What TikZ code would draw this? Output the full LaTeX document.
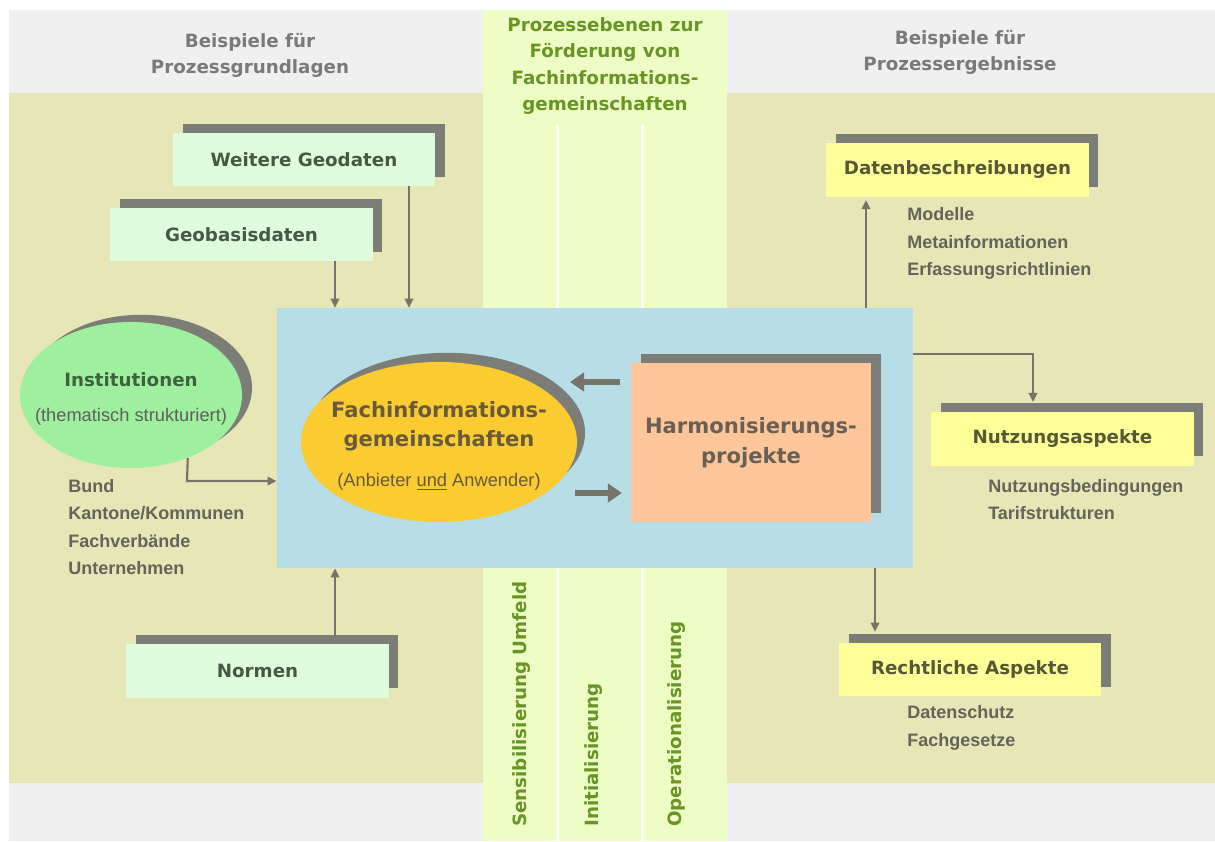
\documentclass[tikz,border=0pt]{standalone}
\usepackage{fontspec}
\setmainfont{DejaVu Sans}
\newfontfamily\arialfont{Liberation Sans}
\usepackage{tikz}
\usetikzlibrary{shapes.geometric}
\usetikzlibrary{shadows}
\usetikzlibrary{arrows.meta}

\definecolor{rahmengrau}{RGB}{240,240,240}
\definecolor{khaki}{RGB}{230,230,182}
\definecolor{spalte}{RGB}{238,252,198}
\definecolor{kernblau}{RGB}{183,222,230}
\definecolor{hellgruen}{RGB}{224,252,222}
\definecolor{instgruen}{RGB}{158,240,158}
\definecolor{fachgelb}{RGB}{250,204,50}
\definecolor{lachs}{RGB}{252,198,154}
\definecolor{hellgelb}{RGB}{255,255,153}
\definecolor{schatten}{RGB}{125,125,120}
\definecolor{titelgrau}{RGB}{122,122,122}
\definecolor{ebenengruen}{RGB}{104,150,36}
\definecolor{gruentext}{RGB}{70,88,70}
\definecolor{gelbtext}{RGB}{88,88,52}
\definecolor{instext}{RGB}{62,98,62}
\definecolor{fachtext}{RGB}{105,90,60}
\definecolor{harmtext}{RGB}{105,95,85}
\definecolor{listengrau}{RGB}{100,100,90}
\definecolor{klammergrau}{RGB}{95,95,95}
\definecolor{pfeilgrau}{RGB}{118,116,104}

\tikzset{
   schattig/.style={
      drop shadow={shadow xshift=0.24cm, shadow yshift=0.23cm,
                   fill=schatten, opacity=1}
   },
   kasten/.style={
      rectangle, inner sep=0pt,
      minimum width=6.55cm, minimum height=1.33cm,
      font=\bfseries\fontsize{13}{16}\selectfont,
      schattig
   },
   gruenkasten/.style={kasten, fill=hellgruen, text=gruentext},
   gelbkasten/.style={kasten, fill=hellgelb, text=gelbtext},
   titel/.style={
      align=center, inner sep=0pt, text=titelgrau,
      font=\bfseries\fontsize{13}{18.5}\selectfont
   },
   ebene/.style={
      align=center, inner sep=0pt, text=ebenengruen,
      font=\bfseries\fontsize{13}{18.7}\selectfont
   },
   ebenevert/.style={
      rotate=90, anchor=west, inner sep=0pt, text=ebenengruen,
      font=\bfseries\fontsize{13}{16}\selectfont
   },
   liste/.style={
      anchor=west, align=left, inner sep=0pt, text=listengrau,
      font=\arialfont\bfseries\fontsize{12.8}{19.6}\selectfont
   },
   pfeil/.style={
      draw=pfeilgrau, line width=1.5pt,
      -{Triangle[length=6.5pt, width=6pt]}
   },
   dick/.style={
      draw=pfeilgrau, line width=4.3pt,
      -{Triangle[length=10pt, width=13pt]}
   }
}

\begin{document}
\begin{tikzpicture}[x=0.025cm, y=-0.025cm]
   \useasboundingbox (0,0) rectangle (1215,841);

   % Hintergrund und Prozessebenen
   \fill[white] (0,0) rectangle (1215,841);
   \fill[rahmengrau] (9,10) rectangle (1215,841);
   \fill[khaki] (9,93) rectangle (1215,783);
   \fill[spalte] (483,10) rectangle (727,841);
   \foreach \x in {557,642}
   \fill[white] (\x-1.5,125) rectangle (\x+1.5,841);

   \node[
      name=kern,
      rectangle,
      inner sep=0pt,
      minimum width=15.9cm,
      minimum height=6.5cm,
      fill=kernblau
   ] at (595,438) {};

   % Titel
   \node[titel] (titelL) at (250,55) {Beispiele für\\Prozessgrundlagen};
   \node[titel] (titelR) at (960,52) {Beispiele für\\Prozessergebnisse};
   \node[ebene] (ebenen) at (605,66)
      {Prozessebenen zur\\Förderung von\\Fachinformations-\\gemeinschaften};

   \node[ebenevert] (sens) at (522,827) {Sensibilisierung Umfeld};
   \node[ebenevert] (init) at (594,827) {Initialisierung};
   \node[ebenevert] (oper) at (677,827) {Operationalisierung};

   % Grundlagen
   \node[gruenkasten] (weitere) at (304,159.5) {Weitere Geodaten};
   \node[gruenkasten] (geobasis) at (241.5,234.5) {Geobasisdaten};
   \node[gruenkasten] (normen) at (257.5,671) {Normen};

   \node[
      name=inst,
      ellipse,
      inner sep=0pt,
      minimum width=5.55cm,
      minimum height=3.65cm,
      fill=instgruen,
      drop shadow={shadow xshift=0.25cm, shadow yshift=0.18cm,
                   fill=schatten, opacity=1}
   ] at (131,395) {};
   \node[
      align=center, inner sep=0pt,
      font=\fontsize{13}{25}\selectfont
   ] (insttxt) at (131,399)
      {\textcolor{instext}{\bfseries Institutionen}\\
       \textcolor{klammergrau}{\arialfont (thematisch strukturiert)}};

   \node[liste] (instliste) at (68,527)
      {Bund\\Kantone/Kommunen\\Fachverbände\\Unternehmen};

   % Kern
   \node[
      name=fach,
      ellipse,
      inner sep=0pt,
      minimum width=6.9cm,
      minimum height=4cm,
      fill=fachgelb,
      drop shadow={shadow xshift=0.2cm, shadow yshift=0.23cm,
                   fill=schatten, opacity=1}
   ] at (439,442) {};
   \node[
      align=center, inner sep=0pt, text=fachtext,
      font=\bfseries\fontsize{15}{20.6}\selectfont
   ] (fachtxt) at (439,446)
      {Fachinformations-\\gemeinschaften\\[7.9pt]
       {\arialfont\mdseries\fontsize{13}{16}\selectfont
        (Anbieter \underline{und} Anwender)}};

   \node[
      name=harm,
      rectangle,
      inner sep=0pt,
      minimum width=6cm,
      minimum height=3.975cm,
      fill=lachs,
      text=harmtext,
      align=center,
      font=\bfseries\fontsize{15}{21.3}\selectfont,
      schattig
   ] at (751,442.5) {Harmonisierungs-\\projekte};

   % Ergebnisse
   \node[gelbkasten] (datenb) at (957.5,170) {Datenbeschreibungen};
   \node[gelbkasten] (nutzung) at (1062.5,439) {Nutzungsaspekte};
   \node[gelbkasten] (recht) at (970,669.5) {Rechtliche Aspekte};

   \node[liste] (datenliste) at (907,243.5)
      {Modelle\\Metainformationen\\Erfassungsrichtlinien};
   \node[liste] (nutzliste) at (988,499.5)
      {Nutzungsbedingungen\\Tarifstrukturen};
   \node[liste] (rechtliste) at (907,728)
      {Datenschutz\\Fachgesetze};

   % Verbindungen
   \coordinate (spurA) at (335,0);
   \coordinate (spurB) at (409,0);
   \coordinate (knickI) at (187,481);
   \coordinate (spurD) at (866,0);
   \coordinate (knickN) at (1033,354);
   \coordinate (spurR) at (875,0);
   \coordinate (dickO) at (570,382);
   \coordinate (dickU) at (575,493);

   \draw[pfeil] (geobasis.south -| spurA) -- (kern.north -| spurA);
   \draw[pfeil] (weitere.south -| spurB) -- (kern.north -| spurB);
   \draw[pfeil] (inst.-48) -- (knickI) -- (kern.west |- knickI);
   \draw[pfeil, shorten <=0.2cm] (normen.north -| spurA) -- (kern.south -| spurA);
   \draw[pfeil, shorten >=0.08cm] (kern.north -| spurD) -- (datenb.south -| spurD);
   \draw[pfeil, shorten >=0.25cm]
   (kern.east |- knickN) -- (knickN) -- (nutzung.north -| knickN);
   \draw[pfeil, shorten >=0.27cm] (kern.south -| spurR) -- (recht.north -| spurR);

   \draw[dick, shorten <=0.27cm] (harm.west |- dickO) -- (dickO);
   \draw[dick, shorten >=0.22cm] (dickU) -- (harm.west |- dickU);

\end{tikzpicture}
\end{document}
